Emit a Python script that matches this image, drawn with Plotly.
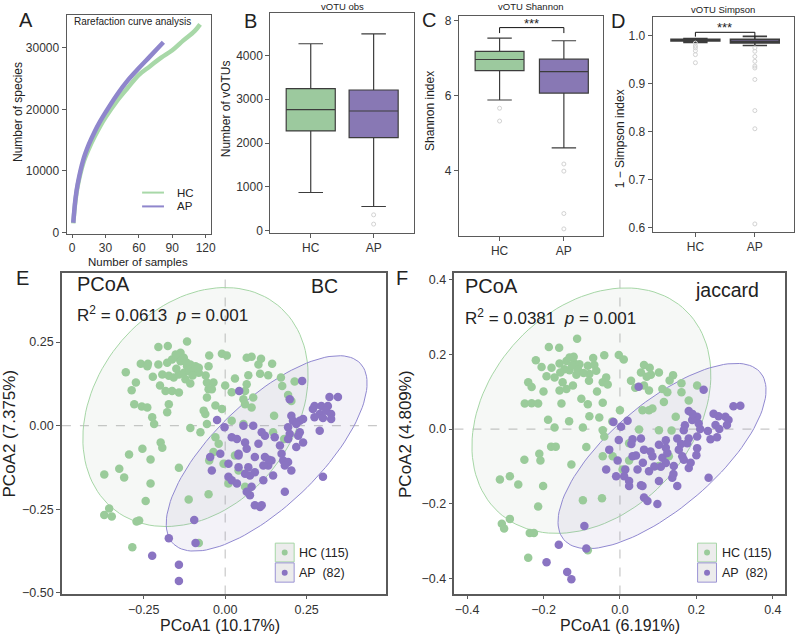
import numpy as np
import plotly.graph_objects as go

W, H = 799, 639
FONT = "Liberation Sans, Arial, sans-serif"
GREEN = "#9acb9a"
PURPLE = "#8a74c2"
BOX_GREEN = "#9cc99e"
BOX_PURPLE = "#8878b4"
DARK = "#3c3c3c"

# ---------------- Data ----------------
groups = ["HC", "AP"]

# A: rarefaction
rare_hc_x = [1, 3, 5, 10, 15, 20, 25, 30, 40, 50, 60, 70, 80, 90, 100, 110, 115]
rare_hc_y = [1500, 5200, 7600, 11300, 13600, 15500, 17200, 18700, 21300, 23500, 25600, 27000, 28400, 29600, 31200, 32700, 33800]
rare_ap_x = [1, 3, 5, 10, 15, 20, 25, 30, 40, 50, 60, 70, 82]
rare_ap_y = [1600, 5500, 7900, 11800, 14300, 16300, 18000, 19500, 22300, 24700, 26700, 28600, 30900]

# B: vOTU obs
obs_q1 = [2277, 2125]
obs_med = [2763, 2732]
obs_q3 = [3241, 3211]
obs_lo = [873, 554]
obs_hi = [4266, 4493]
obs_out_ap = [364, 152]

# C: Shannon
sh_q1 = [6.667, 6.070]
sh_med = [6.965, 6.640]
sh_q3 = [7.184, 6.974]
sh_lo = [5.886, 4.61]
sh_hi = [7.535, 7.465]
sh_out_hc = [5.667, 5.325]
sh_out_ap = [4.18, 3.99, 2.86, 2.45]

# D: Simpson
si_q1 = [0.9895, 0.9855]
si_med = [0.9915, 0.9885]
si_q3 = [0.9928, 0.9928]
si_lo = [0.9865, 0.9800]
si_hi = [0.9945, 0.9990]
si_out_hc = [0.985, 0.979, 0.975, 0.969, 0.961, 0.944]
si_out_ap = [0.975, 0.968, 0.957, 0.947, 0.937, 0.933, 0.909, 0.844, 0.806, 0.607]

# E: PCoA Bray-Curtis
e_hc_x = [-0.117, -0.205, -0.176, -0.137, -0.142, -0.259, -0.237, -0.205, -0.178, -0.163, -0.137, -0.117, -0.107, -0.091, -0.081, -0.051, -0.049, -0.010, 0.005, 0.066, 0.081, 0.102, 0.144, -0.305, -0.274, -0.287, -0.239, -0.222, -0.193, -0.173, -0.158, -0.142, -0.127, -0.110, -0.097, -0.081, -0.122, -0.107, -0.056, -0.036, -0.051, -0.056, -0.041, 0.030, 0.071, 0.107, 0.132, 0.171, 0.175, 0.213, 0.066, 0.061, 0.086, 0.061, 0.081, 0.193, 0.203, 0.056, -0.183, -0.163, -0.142, -0.173, -0.178, -0.279, -0.256, -0.239, -0.224, -0.218, -0.066, -0.061, -0.107, -0.076, -0.056, 0.020, 0.056, 0.150, 0.147, 0.181, -0.198, -0.193, -0.254, -0.295, -0.229, -0.142, -0.371, -0.325, -0.310, -0.229, -0.036, -0.049, -0.005, 0.030, -0.051, -0.112, -0.244, -0.356, -0.371, -0.348, -0.272, -0.264, -0.081, -0.285, -0.030, -0.020, 0.041, 0.010, 0.061, -0.152, -0.127, -0.120, -0.100, -0.150, -0.060, -0.030, 0.000, 0.110, -0.010, 0.020, -0.200]
e_hc_y = [0.252, 0.235, 0.238, 0.218, 0.203, 0.185, 0.185, 0.183, 0.188, 0.198, 0.193, 0.178, 0.183, 0.178, 0.173, 0.178, 0.210, 0.215, 0.210, 0.203, 0.206, 0.183, 0.185, 0.160, 0.129, 0.106, 0.178, 0.146, 0.153, 0.149, 0.144, 0.153, 0.158, 0.163, 0.163, 0.158, 0.139, 0.126, 0.129, 0.129, 0.109, 0.084, 0.109, 0.141, 0.151, 0.155, 0.151, 0.144, 0.119, 0.132, 0.124, 0.104, 0.084, 0.064, 0.054, 0.092, 0.074, 0.079, 0.104, 0.104, 0.099, 0.064, 0.040, 0.064, 0.057, 0.054, 0.025, 0.005, 0.045, 0.035, -0.007, -0.020, 0.005, 0.015, 0.005, 0.030, -0.020, -0.040, -0.050, -0.066, -0.069, -0.086, -0.101, -0.126, -0.146, -0.129, -0.155, -0.173, -0.079, -0.104, -0.114, -0.089, -0.205, -0.221, -0.225, -0.248, -0.267, -0.272, -0.287, -0.284, -0.351, -0.364, -0.035, -0.054, -0.134, -0.173, -0.183, 0.213, 0.203, 0.190, 0.150, 0.170, 0.150, 0.060, 0.120, 0.200, 0.050, 0.100, 0.120]
e_ap_x = [0.236, 0.043, 0.198, 0.274, 0.295, 0.315, 0.320, 0.346, 0.269, 0.290, 0.310, 0.325, 0.325, 0.300, 0.203, 0.208, 0.229, 0.239, -0.025, -0.002, 0.056, 0.086, 0.020, 0.036, 0.061, 0.193, 0.218, 0.198, 0.229, 0.290, 0.112, 0.122, 0.152, 0.193, 0.168, 0.218, 0.239, 0.102, 0.066, 0.041, -0.015, -0.046, 0.091, 0.122, 0.142, 0.178, 0.193, 0.203, 0.183, 0.132, 0.117, 0.010, 0.041, 0.071, 0.091, 0.076, -0.041, 0.010, 0.020, 0.036, 0.061, 0.117, 0.147, 0.081, 0.076, 0.066, 0.183, 0.300, 0.091, 0.107, 0.112, -0.095, -0.173, -0.091, -0.224, -0.142, -0.142, 0.041, 0.173, 0.134, 0.224, 0.274]
e_ap_y = [0.134, 0.104, 0.079, 0.059, 0.059, 0.059, 0.086, 0.086, 0.050, 0.035, 0.045, 0.035, 0.020, 0.023, 0.030, 0.015, 0.015, 0.020, 0.017, -0.005, 0.000, 0.000, -0.035, -0.040, -0.050, -0.005, 0.005, -0.025, -0.020, -0.015, -0.020, -0.030, -0.035, -0.040, -0.059, -0.064, -0.050, -0.054, -0.069, -0.084, -0.084, -0.094, -0.094, -0.094, -0.104, -0.104, -0.109, -0.134, -0.119, -0.119, -0.119, -0.114, -0.124, -0.124, -0.139, -0.149, -0.134, -0.153, -0.163, -0.173, -0.144, -0.163, -0.149, -0.183, -0.208, -0.198, -0.198, -0.153, -0.238, -0.243, -0.238, -0.282, -0.337, -0.351, -0.389, -0.416, -0.465, -0.089, -0.084, -0.102, -0.030, 0.025]

# F: PCoA Jaccard
f_hc_x = [-0.112, -0.186, -0.159, -0.220, -0.205, -0.179, -0.158, -0.140, -0.132, -0.121, -0.119, -0.106, -0.084, -0.067, -0.041, -0.003, 0.010, 0.063, 0.078, 0.055, 0.081, 0.102, 0.139, 0.161, 0.202, -0.240, -0.231, -0.192, -0.171, -0.156, -0.145, -0.132, -0.114, -0.080, -0.062, -0.036, -0.045, -0.032, -0.081, -0.158, -0.140, -0.123, 0.029, 0.063, 0.076, 0.111, 0.124, 0.161, 0.180, 0.115, 0.059, 0.076, 0.085, -0.249, -0.231, -0.214, -0.153, -0.101, -0.084, -0.045, -0.080, -0.054, -0.188, -0.171, -0.133, -0.097, -0.045, -0.041, 0.050, 0.102, 0.135, 0.146, -0.180, -0.168, -0.088, -0.211, -0.208, -0.250, -0.127, -0.266, -0.201, -0.314, -0.288, -0.045, -0.019, 0.024, 0.128, 0.102, -0.097, -0.047, -0.214, -0.288, -0.309, -0.303, -0.236, -0.225, -0.240, -0.084, 0.024, 0.007, -0.125, -0.110, -0.150, -0.095, -0.060, 0.000, 0.040, -0.020, -0.200, 0.130, -0.070, 0.070]
f_hc_y = [0.241, 0.219, 0.217, 0.184, 0.166, 0.164, 0.175, 0.182, 0.191, 0.193, 0.175, 0.173, 0.169, 0.171, 0.197, 0.198, 0.186, 0.171, 0.164, 0.151, 0.145, 0.151, 0.144, 0.122, 0.116, 0.125, 0.112, 0.141, 0.138, 0.151, 0.160, 0.157, 0.145, 0.147, 0.156, 0.138, 0.125, 0.119, 0.129, 0.103, 0.107, 0.116, 0.129, 0.116, 0.103, 0.107, 0.098, 0.098, 0.076, 0.072, 0.050, 0.050, 0.055, 0.068, 0.069, 0.068, 0.068, 0.081, 0.066, 0.070, 0.034, 0.031, 0.025, 0.004, 0.021, 0.004, -0.003, -0.020, -0.001, -0.003, -0.004, 0.033, -0.047, -0.047, -0.048, -0.066, -0.084, -0.082, -0.095, -0.148, -0.152, -0.135, -0.126, -0.073, -0.073, -0.084, -0.073, -0.099, -0.190, -0.185, -0.207, -0.240, -0.253, -0.266, -0.278, -0.278, -0.344, -0.324, -0.038, -0.108, 0.170, 0.160, 0.125, 0.150, 0.100, 0.050, 0.110, 0.020, 0.100, 0.130, 0.190, 0.140]
f_ap_x = [0.049, 0.219, -0.017, 0.020, 0.003, 0.180, 0.202, 0.245, 0.258, 0.276, 0.284, 0.250, 0.280, 0.297, 0.315, 0.189, 0.206, 0.167, 0.150, 0.180, 0.202, 0.237, 0.254, 0.176, 0.202, -0.003, 0.033, 0.055, 0.063, 0.102, 0.042, 0.085, 0.111, 0.120, 0.141, 0.163, 0.167, 0.180, -0.036, -0.006, 0.014, 0.011, 0.024, 0.046, 0.076, 0.107, 0.137, 0.150, 0.102, 0.055, 0.059, 0.063, 0.072, 0.098, 0.232, -0.093, -0.088, -0.160, -0.192, -0.138, -0.127, -0.010, 0.033, 0.154, 0.124, -0.028, 0.024, 0.190, 0.210, 0.170, 0.230, 0.260, 0.120, 0.090, 0.140, 0.060, 0.200, 0.160, 0.080, 0.030, 0.120, 0.185]
f_ap_y = [0.113, 0.105, 0.019, 0.022, 0.006, 0.048, 0.033, 0.041, 0.034, 0.033, 0.024, 0.011, 0.011, 0.061, 0.062, 0.024, 0.015, -0.003, -0.025, -0.025, -0.020, -0.027, -0.022, -0.038, -0.051, -0.029, -0.027, -0.025, -0.055, -0.042, -0.071, -0.073, -0.077, -0.091, -0.099, -0.073, -0.082, -0.104, -0.108, -0.084, -0.108, -0.126, -0.139, -0.108, -0.113, -0.101, -0.130, -0.152, -0.139, -0.150, -0.152, -0.183, -0.192, -0.200, -0.130, -0.259, -0.319, -0.309, -0.356, -0.382, -0.401, -0.126, -0.073, -0.055, -0.064, -0.055, -0.152, 0.040, 0.000, 0.010, -0.005, 0.000, -0.050, -0.100, -0.120, -0.090, -0.070, -0.040, -0.060, -0.040, -0.030, -0.090]

# ---------------- helpers ----------------
def px(x):
    return x / W


def py(y):
    return 1 - y / H


def ellipse(x, y, chi2=5.991, n=120):
    x = np.asarray(x); y = np.asarray(y)
    m = np.array([x.mean(), y.mean()])
    cov = np.cov(x, y)
    vals, vecs = np.linalg.eigh(cov)
    t = np.linspace(0, 2 * np.pi, n)
    circ = np.vstack([np.cos(t), np.sin(t)])
    pts = vecs @ (np.sqrt(vals * chi2)[:, None] * circ)
    return m[0] + pts[0], m[1] + pts[1]


def axis(domain, rng, **kw):
    d = dict(domain=domain, range=rng, showline=True, mirror=True, linecolor="#5a5a5a",
             linewidth=1, ticks="outside", ticklen=4, tickcolor="#5a5a5a", showgrid=False,
             zeroline=False, tickfont=dict(size=12, color="#333", family=FONT))
    d.update(kw)
    return d


fig = go.Figure()

# ---------------- A ----------------
fig.add_trace(go.Scatter(x=rare_hc_x, y=rare_hc_y, mode="lines", line=dict(color="#a8d8a8", width=4.5, shape="spline"),
                         xaxis="x", yaxis="y", showlegend=False))
fig.add_trace(go.Scatter(x=rare_ap_x, y=rare_ap_y, mode="lines", line=dict(color="#8f86cc", width=4.5, shape="spline"),
                         xaxis="x", yaxis="y", showlegend=False))

# ---------------- boxes ----------------
box_sets = [
    ("x2", "y2", obs_q1, obs_med, obs_q3, obs_lo, obs_hi, 0.78, 1.2),
    ("x3", "y3", sh_q1, sh_med, sh_q3, sh_lo, sh_hi, 0.76, 1.2),
    ("x4", "y4", si_q1, si_med, si_q3, si_lo, si_hi, 0.82, 1.6),
]
for xa, ya, q1, med, q3, lo, hi, wd, lw in box_sets:
    for i, col in enumerate([BOX_GREEN, BOX_PURPLE]):
        fig.add_trace(go.Box(x=[i], q1=[q1[i]], median=[med[i]], q3=[q3[i]], lowerfence=[lo[i]],
                             upperfence=[hi[i]], width=wd, fillcolor=col, line=dict(color=DARK, width=lw),
                             boxpoints=False, xaxis=xa, yaxis=ya, showlegend=False, hoverinfo="skip"))

out_style = dict(mode="markers", marker=dict(symbol="circle-open", size=4, color="#d2d2d2", line=dict(width=1)),
                 showlegend=False, hoverinfo="skip")
fig.add_trace(go.Scatter(x=[1] * len(obs_out_ap), y=obs_out_ap, xaxis="x2", yaxis="y2", **out_style))
fig.add_trace(go.Scatter(x=[0] * len(sh_out_hc), y=sh_out_hc, xaxis="x3", yaxis="y3", **out_style))
fig.add_trace(go.Scatter(x=[1] * len(sh_out_ap), y=sh_out_ap, xaxis="x3", yaxis="y3", **out_style))
fig.add_trace(go.Scatter(x=[0] * len(si_out_hc), y=si_out_hc, xaxis="x4", yaxis="y4", **out_style))
fig.add_trace(go.Scatter(x=[1] * len(si_out_ap), y=si_out_ap, xaxis="x4", yaxis="y4", **out_style))

# significance brackets
sig_c = (7.816, 7.67)
sig_d = (1.0076, 0.9985)
for xa, ya, (top, tip) in [("x3", "y3", sig_c), ("x4", "y4", sig_d)]:
    fig.add_trace(go.Scatter(x=[0, 0, 1, 1], y=[tip, top, top, tip], mode="lines",
                             line=dict(color="#111", width=1), xaxis=xa, yaxis=ya, showlegend=False, hoverinfo="skip"))

# ---------------- E / F ----------------
for xa, ya, hx, hy, ax_, ay_ in [("x5", "y5", e_hc_x, e_hc_y, e_ap_x, e_ap_y),
                                 ("x6", "y6", f_hc_x, f_hc_y, f_ap_x, f_ap_y)]:
    ex, ey = ellipse(hx, hy)
    fig.add_trace(go.Scatter(x=ex, y=ey, mode="lines", fill="toself", fillcolor="rgba(150,180,150,0.09)",
                             line=dict(color="#a6d6a6", width=1), xaxis=xa, yaxis=ya, showlegend=False, hoverinfo="skip"))
    ex, ey = ellipse(ax_, ay_)
    fig.add_trace(go.Scatter(x=ex, y=ey, mode="lines", fill="toself", fillcolor="rgba(140,130,190,0.10)",
                             line=dict(color="#9088d0", width=1), xaxis=xa, yaxis=ya, showlegend=False, hoverinfo="skip"))
    fig.add_trace(go.Scatter(x=hx, y=hy, mode="markers", marker=dict(color=GREEN, size=8.5),
                             xaxis=xa, yaxis=ya, showlegend=False, hoverinfo="skip"))
    fig.add_trace(go.Scatter(x=ax_, y=ay_, mode="markers", marker=dict(color=PURPLE, size=8.5),
                             xaxis=xa, yaxis=ya, showlegend=False, hoverinfo="skip"))

# ---------------- layout / axes ----------------
dom = lambda a, b: [a / W, b / W]
vdom = lambda top, bot: [1 - bot / H, 1 - top / H]
big_tick = dict(size=12.5, color="#333", family=FONT)

layout = dict(
    width=W, height=H, margin=dict(l=0, r=0, t=0, b=0), paper_bgcolor="white", plot_bgcolor="white",
    font=dict(family=FONT, color="#222"),
    xaxis=axis(dom(67, 212), [-5, 124.5], tickvals=[0, 30, 60, 90, 120], anchor="y", ticklen=3),
    yaxis=axis(vdom(13, 234.5), [-160, 35340], tickvals=[0, 10000, 20000, 30000], tickformat="d", anchor="x"),
    xaxis2=axis(dom(272, 417), [-0.643, 1.648], tickvals=[0, 1], ticktext=groups, anchor="y2"),
    yaxis2=axis(vdom(11, 234), [-52, 4970], tickvals=[0, 1000, 2000, 3000, 4000], tickformat="d", anchor="x2"),
    xaxis3=axis(dom(461.7, 606.7), [-0.634, 1.607], tickvals=[0, 1], ticktext=groups, anchor="y3"),
    yaxis3=axis(vdom(14, 237), [2.26, 8.13], tickvals=[4, 6, 8], anchor="x3"),
    xaxis4=axis(dom(656.7, 798.5), [-0.72, 1.65], tickvals=[0, 1], ticktext=groups, anchor="y4"),
    yaxis4=axis(vdom(15, 233), [0.59, 1.04], tickvals=[0.6, 0.7, 0.8, 0.9, 1.0], tickformat=".1f", anchor="x4"),
    xaxis5=axis(dom(62.3, 388.3), [-0.501, 0.493], tickvals=[-0.25, 0, 0.25], tickformat=".2f", anchor="y5",
                linewidth=1.5, tickfont=big_tick, ticklen=3),
    yaxis5=axis(vdom(274, 600), [-0.505, 0.458], tickvals=[-0.5, -0.25, 0, 0.25], tickformat=".2f", anchor="x5",
                linewidth=1.5, tickfont=big_tick),
    xaxis6=axis(dom(457.3, 790), [-0.433, 0.432], tickvals=[-0.4, -0.2, 0, 0.2, 0.4], tickformat=".1f", anchor="y6",
                linewidth=1.5, tickfont=big_tick, ticklen=3),
    yaxis6=axis(vdom(274, 600), [-0.442, 0.418], tickvals=[-0.4, -0.2, 0, 0.2, 0.4], tickformat=".1f", anchor="x6",
                linewidth=1.5, tickfont=big_tick),
)
fig.update_layout(**layout)

# dashed zero lines in E / F
shapes = []
for xa, ya in [("x5", "y5"), ("x6", "y6")]:
    shapes.append(dict(type="line", xref=xa, yref=f"{ya} domain", x0=0, x1=0, y0=0, y1=1,
                       line=dict(color="#c8c8c8", width=1.2, dash="dash"), layer="below"))
    shapes.append(dict(type="line", xref=f"{xa} domain", yref=ya, x0=0, x1=1, y0=0, y1=0,
                       line=dict(color="#c8c8c8", width=1.2, dash="dash"), layer="below"))

# A legend lines
shapes.append(dict(type="line", xref="paper", yref="paper", x0=px(143), x1=px(165), y0=py(193), y1=py(193),
                   line=dict(color="#a8d8a8", width=2)))
shapes.append(dict(type="line", xref="paper", yref="paper", x0=px(143), x1=px(165), y0=py(207), y1=py(207),
                   line=dict(color="#8f86cc", width=2)))

# E / F legend boxes
for x0 in [277, 702]:
    shapes.append(dict(type="rect", xref="paper", yref="paper", x0=px(x0), x1=px(x0 + 19), y0=py(548), y1=py(567),
                       fillcolor="#ececec", line=dict(color="#a6d6a6", width=1)))
    shapes.append(dict(type="rect", xref="paper", yref="paper", x0=px(x0), x1=px(x0 + 19), y0=py(568), y1=py(587.5),
                       fillcolor="#ececec", line=dict(color="#9a92d4", width=1)))
    shapes.append(dict(type="circle", xref="paper", yref="paper", x0=px(x0 + 6.5), x1=px(x0 + 12.5),
                       y0=py(554.5), y1=py(560.5), fillcolor=GREEN, line=dict(width=0)))
    shapes.append(dict(type="circle", xref="paper", yref="paper", x0=px(x0 + 6.5), x1=px(x0 + 12.5),
                       y0=py(575), y1=py(581), fillcolor=PURPLE, line=dict(width=0)))
fig.update_layout(shapes=shapes)

ann = []


def txt(x, y, s, size, xanchor="center", angle=0, color="#222", yanchor="middle"):
    ann.append(dict(x=px(x), y=py(y), xref="paper", yref="paper", text=s, showarrow=False,
                    font=dict(size=size, color=color, family=FONT), xanchor=xanchor, yanchor=yanchor,
                    textangle=angle))


# panel letters
txt(26, 18, "A", 20)
txt(252, 19, "B", 20)
txt(432, 18, "C", 20)
txt(622, 19, "D", 20)
txt(23, 280, "E", 20)
txt(405, 280, "F", 20)

# A texts
txt(72, 20, "Rarefaction curve analysis", 10, xanchor="left")
txt(176, 193, "HC", 11.5, xanchor="left")
txt(176, 207, "AP", 11.5, xanchor="left")
txt(17.5, 111, "Number of species", 12, angle=-90)
txt(139, 263, "Number of samples", 11.5)

# box titles
txt(344.5, 5, "vOTU obs", 9.5)
txt(534, 5, "vOTU Shannon", 9.5)
txt(728, 8, "vOTU Simpson", 9.5)
txt(227, 108, "Number of vOTUs", 12, angle=-90)
txt(432, 110, "Shannon index", 12, angle=-90)
txt(624, 139, "1 \u2212 Simpson index", 12, angle=-90)
txt(534.5, 22, "***", 13)
txt(729, 26, "***", 13)

# E texts
txt(75, 286, "PCoA", 20, xanchor="left")
txt(311, 288, "BC", 19.5, xanchor="left")
txt(75, 316, "R<sup>2</sup> = 0.0613  <i>p</i> = 0.001", 17, xanchor="left")
txt(299, 558, "HC (115)", 12.5, xanchor="left")
txt(299, 578, "AP  (82)", 12.5, xanchor="left")
txt(10, 437, "PCoA2 (7.375%)", 17, angle=-90)
txt(221.7, 631, "PCoA1 (10.17%)", 16)

# F texts
txt(466, 288, "PCoA", 20, xanchor="left")
txt(697, 292, "jaccard", 19.5, xanchor="left")
txt(466, 319, "R<sup>2</sup> = 0.0381  <i>p</i> = 0.001", 17, xanchor="left")
txt(725, 558, "HC (115)", 12.5, xanchor="left")
txt(725, 578, "AP  (82)", 12.5, xanchor="left")
txt(408, 437, "PCoA2 (4.809%)", 17, angle=-90)
txt(624, 631, "PCoA1 (6.191%)", 16)

fig.update_layout(annotations=ann)
fig.write_html("out.html")
